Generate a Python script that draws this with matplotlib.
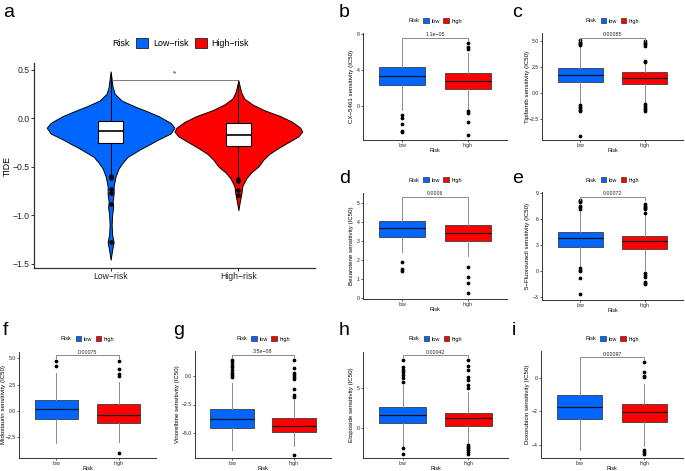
import matplotlib
matplotlib.use('Agg')
import matplotlib.pyplot as plt
from matplotlib.patches import Patch

plt.rcParams['font.family'] = ['Liberation Sans', 'DejaVu Sans']

W, H = 685, 471
BLUE = '#0066ff'
RED = '#ff0000'

# ---- panel a: TIDE by risk group (violin outline) ----
tide_groups = ['Low-risk', 'High-risk']
low_violin_y = [0.48, 0.40, 0.32, 0.25, 0.18, 0.12, 0.08, 0.02, -0.05, -0.10, -0.16, -0.22, -0.26, -0.32,
                -0.40, -0.46, -0.52, -0.60, -0.70, -0.78, -0.86, -0.92, -1.00, -1.10, -1.20, -1.28, -1.36, -1.46]
low_violin_d = [0, .016, .031, .063, .172, .375, .531, .75, .938, 1.0, .938, .75, .641, .469,
                .266, .188, .125, .078, .047, .047, .031, .039, .023, .016, .023, .047, .023, 0]
high_violin_y = [0.39, 0.32, 0.26, 0.20, 0.14, 0.08, 0.02, -0.04, -0.10, -0.14, -0.19, -0.25, -0.31,
                 -0.37, -0.43, -0.50, -0.56, -0.62, -0.70, -0.78, -0.86, -0.95]
high_violin_d = [0, .023, .047, .094, .219, .406, .656, .844, .969, 1.0, .938, .781, .625,
                 .484, .391, .313, .203, .125, .063, .047, .023, 0]
# whislo, q1, median, q3, whishi
tide_low_stats = [-0.57, -0.26, -0.13, -0.03, 0.46]
tide_high_stats = [-0.60, -0.29, -0.17, -0.05, 0.38]
tide_low_out = [-0.60, -0.62, -0.73, -0.77, -0.89, -1.28]
tide_high_out = [-0.63, -0.65, -0.74, -0.79]
tide_sig = '*'

# ---- panels b-i: drug sensitivity boxplots ----
risk_groups = ['low', 'high']
drugs = ['CX\u22125461', 'Tipifarnib', 'Bexarotene', '5\u2212Fluorouracil',
         'Midostaurin', 'Vinorelbine', 'Etoposide', 'Doxorubicin']
pvals = ['1.1e\u221205', '0.00085', '0.0006', '0.00072', '0.00075', '3.5e\u221208', '0.00042', '0.00097']
low_stats = [
    [-0.45, 2.33, 3.33, 4.33, 7.4],
    [-0.96, 1.05, 1.75, 2.4, 4.4],
    [2.4, 3.2, 3.68, 4.05, 5.15],
    [0.5, 2.8, 3.85, 4.53, 7.0],
    [-3.1, -0.8, 0.15, 1.0, 3.6],
    [-6.5, -4.6, -3.75, -2.9, -0.65],
    [-2.25, 0.6, 1.6, 2.6, 5.4],
    [-4.3, -2.45, -1.75, -1.0, 1.1],
]
high_stats = [
    [-0.35, 1.9, 2.8, 3.67, 5.9],
    [-0.95, 0.85, 1.4, 2.0, 2.85],
    [2.2, 3.0, 3.42, 3.85, 5.15],
    [0.1, 2.54, 3.42, 4.08, 6.46],
    [-3.0, -1.15, -0.4, 0.65, 2.75],
    [-6.1, -4.9, -4.4, -3.7, -2.1],
    [-1.9, 0.25, 1.2, 1.9, 4.5],
    [-4.1, -2.65, -2.05, -1.55, -0.35],
]
low_out = [
    [-1.0, -1.3, -2.0, -2.75, -2.9],
    [4.6, 4.75, 4.85, 4.95, 5.05, -1.15, -1.3, -1.45, -1.6, -1.75, -4.1],
    [1.9, 1.55, 1.42],
    [7.2, 7.35, 7.5, 7.9, 8.05, 8.2, 0.3, 0.15, 0.0, -0.8, -2.65],
    [4.3, 4.76],
    [-0.1, 0.1, 0.3, 0.5, 0.8, 1.0, 1.2, 1.4],
    [5.8, 6.2, 6.6, 7.0, 7.3, 7.66, 8.5, -2.5, -3.2],
    [],
]
high_out = [
    [6.33, 6.59, 6.96, -0.6, -0.8, -1.75, -3.2],
    [3.0, 3.1, 4.55, 4.7, 4.85, 5.0, -1.1, -1.25, -1.4, -1.55, -1.7],
    [1.65, 1.13, 0.82, 0.25],
    [6.7, 7.1, 7.25, 7.4, 7.55, 7.7, -0.2, -0.5, -0.75, -1.25, -1.4, -1.5],
    [3.36, 3.5, 4.0, 4.76, -4.05],
    [1.4, 0.7, 0.3, 0.1, -0.1, -0.3, -1.1, -1.7, -1.85, -6.9],
    [8.5, 7.75, 7.25, 6.4, 6.0, 5.4, 5.0, -2.15, -2.35, -2.55, -2.75, -2.95, -3.2],
    [0.98, 0.38, 0.12, 0.04, -4.3, -4.45, -4.55],
]
bracket_y = [7.55, 5.29, 5.31, 8.54, 5.3, 1.84, 9.1, 1.25]

# layout (pixels): letter, box (left, top, right, bottom), ylim, yticks, tick decimals,
# legend y, y-label centre x
panels = [
    ('b', (363, 33, 507, 140), (-3.78, 8.1), [0, 4, 8], 0, 21, 351),
    ('c', (542, 33, 683, 140), (-4.52, 5.77), [-2.5, 0, 2.5, 5], 1, 21, 527),
    ('d', (363, 193, 507, 299), (-0.04, 5.52), [0, 1, 2, 3, 4, 5], 0, 180, 351),
    ('e', (542, 192, 683, 300), (-3.35, 9.11), [-3, 0, 3, 6, 9], 0, 180, 527),
    ('f', (19, 352, 156, 458), (-4.48, 5.6), [-2.5, 0, 2.5, 5], 1, 339, 3.5),
    ('g', (195, 351, 331, 458), (-7.19, 2.19), [-5, -2.5, 0], 1, 339, 178),
    ('h', (363, 352, 508, 458), (-3.75, 9.5), [0, 5], 0, 339, 351),
    ('i', (541, 351, 683, 458), (-4.79, 1.62), [-4, -2, 0], 0, 339, 527),
]
letter_pos = {'a': (3, 17), 'b': (339, 17), 'c': (512, 17), 'd': (339, 183), 'e': (512, 183),
              'f': (3, 335), 'g': (173, 335), 'h': (339, 335), 'i': (512, 335)}


def fx(px):
    return px / W


def fy(py):
    return 1 - py / H


def make_axes(box):
    l, t, r, b = box
    return fig.add_axes([fx(l), fy(b), (r - l) / W, (b - t) / H])


def fmt(v, dec):
    return (f'{v:.{dec}f}').replace('-', '\u2212')


def style(ax, fs, lw, tl, pad):
    for s in ['top', 'right']:
        ax.spines[s].set_visible(False)
    for s in ['left', 'bottom']:
        ax.spines[s].set_linewidth(lw)
        ax.spines[s].set_color('#333333')
    ax.tick_params(length=tl, width=lw * 0.8, color='#333333', labelsize=fs, pad=pad,
                   labelcolor='#222222')


def stat(s, out):
    return {'whislo': s[0], 'q1': s[1], 'med': s[2], 'q3': s[3], 'whishi': s[4], 'fliers': out}


fig = plt.figure(figsize=(W / 100, H / 100), dpi=100)

# ---------------- panel a ----------------
ax = make_axes((34, 63, 315, 268))
for pos, ys, ds, c in [(1, low_violin_y, low_violin_d, BLUE), (2, high_violin_y, high_violin_d, RED)]:
    half = [0.5 * d for d in ds]
    ax.fill_betweenx(ys, [pos - h for h in half], [pos + h for h in half],
                     facecolor=c, edgecolor='black', linewidth=0.7, zorder=1)
bp = ax.bxp([stat(tide_low_stats, tide_low_out), stat(tide_high_stats, tide_high_out)],
            positions=[1, 2], widths=0.2, patch_artist=True, showcaps=False,
            boxprops=dict(facecolor='white', edgecolor='black', linewidth=0.8),
            whiskerprops=dict(color='black', linewidth=0.7),
            medianprops=dict(color='black', linewidth=1.2),
            flierprops=dict(marker='o', markersize=2.3, markerfacecolor='black',
                            markeredgecolor='black'))
for k in bp:
    for art in bp[k]:
        art.set_zorder(3)
ax.plot([1, 1, 2, 2], [0.39, 0.39, 0.39, 0.33], color='#666666', lw=0.6, zorder=2)
ax.text(1.5, 0.42, tide_sig, ha='center', va='bottom', fontsize=6, color='#222222')
ax.set_xlim(0.4, 2.6)
ax.set_ylim(-1.546, 0.567)
ax.set_xticks([1, 2], [t.replace('-', '\u2212') for t in tide_groups])
yt = [-1.5, -1.0, -0.5, 0.0, 0.5]
ax.set_yticks(yt, [fmt(v, 1) for v in yt])
style(ax, 6.2, 0.9, 2, 1.0)
ax.set_ylabel('TIDE', fontsize=6.3, va='center')
ax.yaxis.set_label_coords((7 - 34) / 281, 0.5)

fig.text(fx(130), fy(43), 'Risk', ha='right', va='center', fontsize=6.4)
fig.legend([Patch(facecolor=BLUE, edgecolor='#333333', linewidth=0.7),
            Patch(facecolor=RED, edgecolor='#333333', linewidth=0.7)],
           ['Low\u2212risk', 'High\u2212risk'], loc='center left',
           bbox_to_anchor=(fx(136), fy(43)), ncol=2, frameon=False, fontsize=6.4,
           handlelength=1.35, handleheight=1.25, handletextpad=0.55, columnspacing=0.7,
           borderpad=0, borderaxespad=0)

# ---------------- panels b-i ----------------
for i, (letter, box, ylim, yticks, dec, leg_y, lab_x) in enumerate(panels):
    ax = make_axes(box)
    bp = ax.bxp([stat(low_stats[i], low_out[i]), stat(high_stats[i], high_out[i])],
                positions=[1, 2], widths=0.7, patch_artist=True, showcaps=False,
                boxprops=dict(edgecolor='#3c3c3c', linewidth=0.6),
                whiskerprops=dict(color='#8a8a8a', linewidth=0.7),
                medianprops=dict(color='#111111', linewidth=0.9),
                flierprops=dict(marker='o', markersize=1.7, markerfacecolor='black',
                                markeredgecolor='black'))
    for patch, c in zip(bp['boxes'], [BLUE, RED]):
        patch.set_facecolor(c)
    y0 = bracket_y[i]
    tip = 0.03 * (ylim[1] - ylim[0])
    ax.plot([1, 1, 2, 2], [y0 - tip, y0, y0, y0 - tip], color='#8a8a8a', lw=0.7)
    ax.text(1.5, y0 + 0.005 * (ylim[1] - ylim[0]), pvals[i], ha='center', va='bottom',
            fontsize=3.8, color='#222222')
    ax.set_xlim(0.4, 2.6)
    ax.set_ylim(*ylim)
    ax.set_xticks([1, 2], risk_groups)
    ax.set_yticks(yticks, [fmt(v, dec) for v in yticks])
    style(ax, 3.7, 0.7, 1.6, 0.8)
    l, t, r, b = box
    ax.set_ylabel(drugs[i] + ' sensitivity (IC50)', fontsize=4.4, va='center')
    ax.yaxis.set_label_coords((lab_x - l) / (r - l), 0.5)
    ax.set_xlabel('Risk', fontsize=4.0, va='center')
    ax.xaxis.set_label_coords(0.5, -10.5 / (b - t))

    cx = (l + r) / 2
    fig.text(fx(cx - 16), fy(leg_y), 'Risk', ha='right', va='center', fontsize=4.0)
    fig.legend([Patch(facecolor=BLUE, edgecolor='#333333', linewidth=0.5),
                Patch(facecolor=RED, edgecolor='#333333', linewidth=0.5)],
               risk_groups, loc='center left', bbox_to_anchor=(fx(cx - 12), fy(leg_y)),
               ncol=2, frameon=False, fontsize=4.0, handlelength=1.0, handleheight=0.9,
               handletextpad=0.5, columnspacing=0.6, borderpad=0, borderaxespad=0)

for letter, (x, y) in letter_pos.items():
    fig.text(fx(x), fy(y), letter, fontsize=14, va='baseline', ha='left')

fig.savefig('out.png', dpi=100)
